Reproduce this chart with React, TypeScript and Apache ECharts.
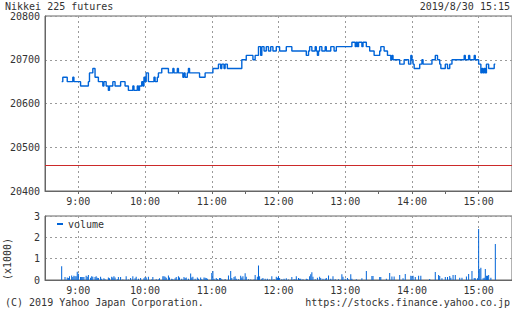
import React, { useEffect, useRef } from 'react';
import * as echarts from 'echarts';

// x axis: minutes since 8:30, 0..420 (8:30 .. 15:30)
const axisMinutes = 420;
const hourLabels = ['9:00', '10:00', '11:00', '12:00', '13:00', '14:00', '15:00'];
const priceTicks = [20400, 20500, 20600, 20700, 20800];
const volumeTicks = [0, 1000, 2000, 3000];
const prevClose = 20460;

const titleText = 'Nikkei 225 futures';
const dateText = '2019/8/30 15:15';
const copyText = '(C) 2019 Yahoo Japan Corporation.';
const urlText = 'https://stocks.finance.yahoo.co.jp';
const unitText = '(x1000)';

// price change points (minute since 8:30, price)
const priceMinutes = [
  15, 16, 20, 25, 26, 32, 39, 40, 43, 45, 48, 52, 53, 55, 57, 58, 61, 63, 68, 72,
  75, 79, 80, 83, 84, 85, 87, 88, 89, 90, 91, 93, 98, 99, 101, 102, 105, 111, 115, 116,
  119, 120, 124, 125, 126, 128, 129, 130, 139, 144, 151, 156, 158, 159, 161, 162, 164, 177, 181, 187,
  189, 192, 194, 195, 197, 199, 201, 203, 205, 208, 211, 217, 222, 235, 237, 238, 240, 243, 244, 245,
  246, 247, 249, 252, 253, 257, 260, 262, 276, 279, 280, 281, 282, 285, 286, 289, 292, 296, 301, 302,
  305, 308, 311, 312, 313, 319, 323, 327, 329, 330, 331, 332, 337, 339, 340, 348, 351, 353, 355, 356,
  360, 362, 364, 366, 377, 378, 381, 382, 386, 387, 390, 392, 393, 394, 395, 396, 397, 399, 404, 405,
];
const priceValues = [
  20650, 20660, 20650, 20660, 20650, 20640, 20650, 20670, 20680, 20660, 20650, 20640, 20650, 20640, 20630, 20640, 20650, 20640, 20650, 20640,
  20630, 20640, 20630, 20640, 20630, 20640, 20650, 20640, 20660, 20650, 20670, 20650, 20660, 20650, 20660, 20670, 20680, 20670, 20680, 20670,
  20680, 20670, 20660, 20670, 20660, 20670, 20680, 20670, 20660, 20670, 20680, 20690, 20680, 20690, 20680, 20690, 20680, 20700, 20710, 20700,
  20710, 20730, 20710, 20730, 20720, 20730, 20720, 20730, 20720, 20730, 20720, 20730, 20720, 20710, 20720, 20730, 20720, 20730, 20720, 20710,
  20720, 20730, 20720, 20730, 20720, 20730, 20720, 20730, 20740, 20730, 20740, 20730, 20740, 20730, 20740, 20730, 20720, 20710, 20720, 20730,
  20720, 20710, 20700, 20710, 20700, 20690, 20700, 20690, 20710, 20700, 20690, 20680, 20690, 20700, 20690, 20700, 20710, 20700, 20690, 20680,
  20690, 20680, 20690, 20700, 20710, 20700, 20710, 20700, 20710, 20700, 20690, 20670, 20680, 20670, 20680, 20670, 20690, 20680, 20690, 20690,
];

// volume (minute since 8:30, contracts)
const volumeMinutes = [
  15, 18, 20, 21, 22, 24, 25, 26, 27, 28, 29, 30, 32, 33, 34, 35, 37, 38, 39, 41,
  42, 43, 45, 46, 47, 48, 50, 51, 53, 54, 57, 58, 60, 61, 62, 63, 65, 66, 68, 70,
  73, 75, 77, 79, 81, 82, 84, 86, 89, 90, 91, 93, 96, 97, 100, 102, 103, 106, 107, 108,
  109, 111, 112, 114, 115, 117, 118, 120, 121, 123, 125, 126, 127, 129, 131, 132, 133, 135, 137, 138,
  140, 141, 143, 144, 146, 145, 150, 151, 152, 154, 155, 157, 158, 159, 162, 165, 167, 168, 170, 171,
  172, 174, 176, 177, 178, 180, 181, 183, 185, 188, 189, 191, 192, 193, 195, 196, 198, 200, 202, 204,
  206, 208, 209, 210, 211, 213, 215, 217, 219, 222, 224, 225, 226, 228, 229, 230, 232, 235, 236, 238,
  239, 240, 241, 243, 245, 247, 248, 250, 252, 253, 255, 257, 259, 261, 264, 267, 268, 270, 272, 273,
  275, 276, 280, 285, 289, 294, 295, 301, 302, 307, 310, 312, 314, 319, 322, 324, 329, 330, 331, 333,
  336, 338, 346, 351, 354, 355, 357, 360, 362, 364, 365, 367, 369, 373, 375, 379, 381, 384, 386, 387,
  389, 390, 391, 392, 394, 395, 396, 397, 398, 399, 401, 405,
];
const volumeValues = [
  640, 140, 120, 90, 170, 210, 140, 200, 180, 170, 390, 290, 140, 140, 140, 140, 200, 150, 230, 110,
  180, 150, 140, 180, 110, 90, 150, 60, 80, 30, 120, 80, 150, 120, 180, 120, 30, 140, 140, 20,
  180, 20, 90, 180, 80, 150, 60, 90, 80, 140, 120, 150, 20, 140, 30, 20, 80, 180, 170, 150,
  110, 210, 120, 60, 30, 80, 140, 170, 120, 60, 140, 90, 120, 60, 300, 120, 150, 60, 120, 60,
  120, 30, 120, 110, 60, 90, 330, 420, 60, 90, 50, 90, 90, 30, 50, 210, 420, 90, 140, 180,
  60, 30, 200, 120, 180, 320, 150, 30, 20, 20, 240, 150, 680, 180, 60, 90, 60, 60, 20, 180,
  30, 150, 110, 180, 90, 30, 60, 80, 20, 140, 30, 20, 180, 90, 60, 60, 30, 60, 30, 180,
  270, 360, 150, 30, 110, 150, 90, 60, 60, 90, 210, 60, 180, 30, 30, 270, 150, 60, 90, 20,
  270, 60, 30, 80, 420, 190, 190, 140, 140, 60, 330, 160, 160, 230, 80, 280, 200, 190, 200, 140,
  200, 200, 50, 370, 230, 190, 80, 140, 140, 190, 110, 230, 230, 110, 110, 160, 280, 420, 90, 80,
  80, 2390, 520, 580, 80, 110, 520, 200, 200, 230, 110, 1690,
];

const FONT = '"DejaVu Sans Mono", "Liberation Mono", monospace';
const TEXT = '#333';
const AXIS = '#666';
const GRIDC = '#9a9a9a';
const BLUE = '#0064d8';

export default function App() {
  const ref = useRef<HTMLDivElement>(null);
  useEffect(() => {
    const chart = echarts.init(ref.current!, null, { renderer: 'svg' });
    const cats = Array.from({ length: axisMinutes + 1 }, (_, i) => String(i));
    const isHour = (i: number) => i % 60 === 30;
    const hourLabel = (v: string) => {
      const i = Number(v);
      return isHour(i) ? hourLabels[(i - 30) / 60] : '';
    };
    const xBase = (grid: number, ticks: boolean) => ({
      type: 'category',
      gridIndex: grid,
      data: cats,
      boundaryGap: false,
      axisLine: { show: true, lineStyle: { color: AXIS, width: 1 } },
      axisTick: {
        show: ticks,
        interval: (i: number) => i % 30 === 0 && i > 0 && i < axisMinutes,
        length: 3,
        lineStyle: { color: AXIS },
      },
      axisLabel: {
        interval: (i: number) => isHour(i),
        formatter: hourLabel,
        color: TEXT,
        fontFamily: FONT,
        fontSize: 10,
        margin: 5,
      },
      splitLine: {
        show: true,
        interval: (i: number) => isHour(i),
        lineStyle: { color: GRIDC, type: [2, 3], width: 1 },
      },
    });

    const option: any = {
      animation: false,
      backgroundColor: '#fff',
      textStyle: { fontFamily: FONT },
      grid: [
        { left: 45, top: 16, width: 467, height: 175, show: true, borderColor: AXIS, borderWidth: 1 },
        { left: 45, top: 216, width: 467, height: 64, show: true, borderColor: AXIS, borderWidth: 1 },
      ],
      legend: {
        data: ['volume'],
        left: 57,
        top: 219,
        padding: 0,
        icon: 'rect',
        itemWidth: 6,
        itemHeight: 2,
        textStyle: { fontFamily: FONT, fontSize: 10, color: TEXT },
      },
      xAxis: [xBase(0, true), xBase(1, false)],
      yAxis: [
        {
          type: 'value',
          gridIndex: 0,
          min: priceTicks[0],
          max: priceTicks[priceTicks.length - 1],
          interval: 100,
          axisLine: { show: true, lineStyle: { color: AXIS } },
          axisTick: { show: false },
          axisLabel: {
            color: TEXT,
            fontFamily: FONT,
            fontSize: 10,
            margin: 5,
            formatter: (v: number) => String(v),
          },
          splitLine: { show: true, lineStyle: { color: GRIDC, type: [2, 3] } },
        },
        {
          type: 'value',
          gridIndex: 1,
          min: volumeTicks[0],
          max: volumeTicks[volumeTicks.length - 1],
          interval: 1000,
          axisLine: { show: true, lineStyle: { color: AXIS } },
          axisTick: { show: false },
          axisLabel: {
            color: TEXT,
            fontFamily: FONT,
            fontSize: 10,
            margin: 5,
            formatter: (v: number) => String(v / 1000),
          },
          splitLine: { show: true, lineStyle: { color: GRIDC, type: [2, 3] } },
        },
      ],
      series: [
        {
          type: 'line',
          name: 'price',
          xAxisIndex: 0,
          yAxisIndex: 0,
          step: 'end',
          showSymbol: false,
          symbol: 'none',
          lineStyle: { color: BLUE, width: 1.4 },
          data: priceMinutes.map((m, i) => [m, priceValues[i]]),
          markLine: {
            silent: true,
            symbol: ['none', 'none'],
            label: { show: false },
            lineStyle: { color: '#cc2a2a', type: 'solid', width: 1 },
            data: [{ yAxis: prevClose }],
          },
          z: 3,
        },
        {
          type: 'bar',
          name: 'volume',
          xAxisIndex: 1,
          yAxisIndex: 1,
          barWidth: 1,
          itemStyle: { color: BLUE },
          data: volumeMinutes.map((m, i) => [m, volumeValues[i]]),
        },
      ],
      graphic: [
        { type: 'text', x: 5, y: 6, style: { text: titleText, fontFamily: FONT, fontSize: 10, fill: TEXT, align: 'left', verticalAlign: 'middle' } },
        { type: 'text', x: 510, y: 6, style: { text: dateText, fontFamily: FONT, fontSize: 10, fill: TEXT, align: 'right', verticalAlign: 'middle' } },
        { type: 'text', x: 5, y: 302, style: { text: copyText, fontFamily: FONT, fontSize: 10, fill: TEXT, align: 'left', verticalAlign: 'middle' } },
        { type: 'text', x: 510, y: 302, style: { text: urlText, fontFamily: FONT, fontSize: 10, fill: TEXT, align: 'right', verticalAlign: 'middle' } },
        { type: 'text', x: 7, y: 259, rotation: Math.PI / 2, style: { text: unitText, fontFamily: FONT, fontSize: 10, fill: TEXT, align: 'center', verticalAlign: 'middle' } },
      ],
    };
    chart.setOption(option);
    return () => chart.dispose();
  }, []);
  return (
    <div
      ref={ref}
      style={{ position: 'fixed', left: 0, top: 0, width: 512, height: 310, background: '#fff' }}
    />
  );
}
